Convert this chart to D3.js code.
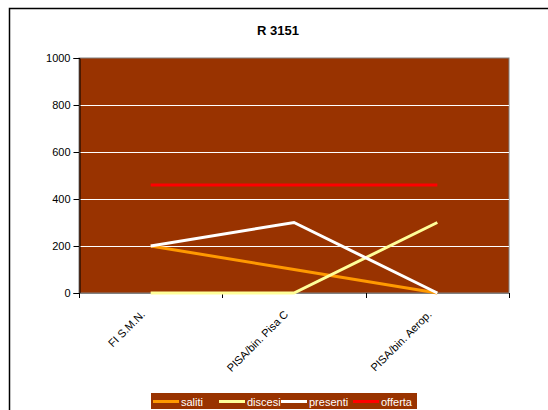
<!DOCTYPE html>
<html><head><meta charset="utf-8">
<script src="https://cdn.jsdelivr.net/npm/d3@7"></script>
<style>body{margin:0;background:#fff}svg{display:block}text{font-family:"Liberation Sans",Arial,sans-serif}</style>
</head><body>
<svg id="c" width="548" height="410"></svg>
<script>
const title = "R 3151";
const categories = ["FI S.M.N.", "PISA/bin. Pisa C", "PISA/bin. Aerop."];
const saliti = [200, 100, 0];
const discesi = [0, 0, 300];
const presenti = [200, 300, 0];
const offerta = [460, 460, 460];
const yTicks = [0, 200, 400, 600, 800, 1000];
const seriesNames = ["saliti", "discesi", "presenti", "offerta"];

const colors = {saliti:"#FF9900", discesi:"#FFFF99", presenti:"#FFFFFF", offerta:"#FF0000"};
const series = [
  {name:"saliti", values:saliti},
  {name:"discesi", values:discesi},
  {name:"presenti", values:presenti},
  {name:"offerta", values:offerta}
];

const svg = d3.select("#c");
// outer frame
svg.append("rect").attr("x",9.5).attr("y",8.5).attr("width",560).attr("height",420)
  .attr("fill","#fff").attr("stroke","#000").attr("stroke-width",1.5);

const L=79, R=509, T=58, B=293;
const x = d3.scaleBand().domain(categories).range([L,R]);
const y = d3.scaleLinear().domain([0,1000]).range([B,T]);

svg.append("text").attr("x",278).attr("y",35).attr("text-anchor","middle")
  .attr("font-size",13).attr("font-weight","bold").text(title);

svg.append("rect").attr("x",L).attr("y",T).attr("width",R-L).attr("height",B-T)
  .attr("fill","#993300").attr("stroke","#808080").attr("stroke-width",1);

// gridlines
svg.append("g").selectAll("line").data(yTicks.filter(d=>d>0 && d<1000)).join("line")
  .attr("x1",L).attr("x2",R).attr("y1",d=>Math.round(y(d))+0.5).attr("y2",d=>Math.round(y(d))+0.5)
  .attr("stroke","#fff").attr("stroke-width",1);

// y axis
const ya = svg.append("g").attr("transform",`translate(${L+0.5},0)`)
  .call(d3.axisLeft(y).tickValues(yTicks).tickFormat(d3.format("d")).tickSize(6).tickPadding(3));
ya.select(".domain").attr("stroke","#000");
ya.selectAll("line").attr("stroke","#000");
ya.selectAll("text").attr("font-size",11).attr("fill","#000").style("font-family","Liberation Sans, Arial, sans-serif");

// x axis: line + ticks at band boundaries
const xg = svg.append("g");
xg.append("line").attr("x1",L).attr("x2",R+1).attr("y1",B+0.5).attr("y2",B+0.5).attr("stroke","#808080");
const bounds = categories.map(c=>x(c)+x.bandwidth()).concat([L]);
xg.selectAll("line.t").data(bounds).join("line").attr("class","t")
  .attr("x1",d=>Math.round(d)+0.5).attr("x2",d=>Math.round(d)+0.5).attr("y1",B).attr("y2",B+5).attr("stroke","#000");
xg.selectAll("text").data(categories).join("text")
  .attr("transform",d=>`translate(${x(d)+x.bandwidth()/2-5},${B+22}) rotate(-45)`)
  .attr("text-anchor","end").attr("font-size",11).attr("fill","#000").text(d=>d);

// lines
const line = d3.line().x((d,i)=>x(categories[i])+x.bandwidth()/2).y(d=>y(d));
svg.append("g").selectAll("path").data(series).join("path")
  .attr("d",d=>line(d.values)).attr("fill","none")
  .attr("stroke",d=>colors[d.name]).attr("stroke-width",3);

// legend
const lg = svg.append("g");
lg.append("rect").attr("x",151).attr("y",393).attr("width",266).attr("height",16).attr("fill","#993300");
const itemX = [153, 219, 281, 353];
seriesNames.forEach((n,i)=>{
  lg.append("line").attr("x1",itemX[i]).attr("x2",itemX[i]+26).attr("y1",401.5).attr("y2",401.5)
    .attr("stroke",colors[n]).attr("stroke-width",3);
  lg.append("text").attr("x",itemX[i]+28).attr("y",405.5).attr("font-size",11).attr("fill","#fff").text(n);
});
</script>
</body></html>
